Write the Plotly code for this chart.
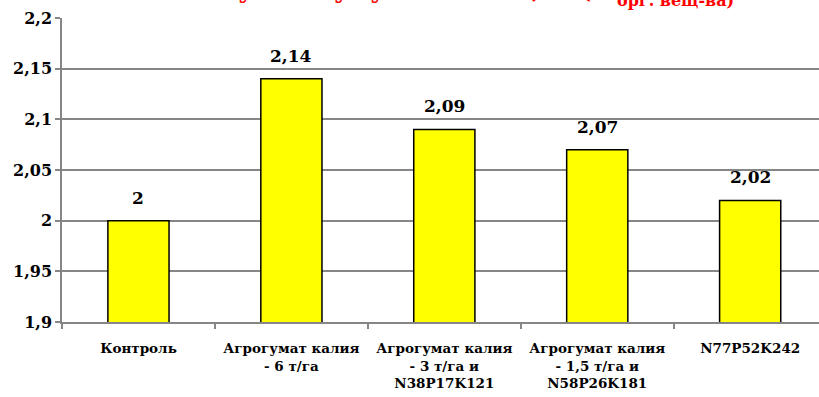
import plotly.graph_objects as go

categories = ["Контроль", "Агрогумат калия<br>- 6 т/га", "Агрогумат калия<br>- 3 т/га и<br>N38P17K121",
              "Агрогумат калия<br>- 1,5 т/га и<br>N58P26K181", "N77P52K242"]
values = [2.0, 2.14, 2.09, 2.07, 2.02]
value_labels = ["2", "2,14", "2,09", "2,07", "2,02"]
ytick_vals = [1.9, 1.95, 2.0, 2.05, 2.1, 2.15, 2.2]
ytick_text = ["1,9", "1,95", "2", "2,05", "2,1", "2,15", "2,2"]
title_main = "Сумма гумуса в почве, % (С"
title_sub = "орг. вещ-ва)"

SERIF = "DejaVu Serif"
GRID = "#868686"

fig = go.Figure()
fig.add_trace(go.Bar(
    x=categories, y=values,
    marker=dict(color="#FFFF00", line=dict(color="#000000", width=1.5)),
    width=0.4,
))

for c, v, t in zip(categories, values, value_labels):
    fig.add_annotation(x=c, y=v, text=t, showarrow=False, yanchor="bottom",
                       yshift=11, font=dict(family=SERIF, size=17, color="#000000", weight="bold"))

fig.add_annotation(xref="paper", yref="paper", x=0.7266, y=1, xanchor="right", yanchor="bottom", yshift=12,
                   text=title_main, showarrow=False,
                   font=dict(family=SERIF, size=24, color="#FF0000", weight="bold"))
fig.add_annotation(xref="paper", yref="paper", x=0.7305, y=1, xanchor="left", yanchor="bottom", yshift=6,
                   text=title_sub, showarrow=False,
                   font=dict(family=SERIF, size=16, color="#FF0000", weight="bold"))

fig.update_layout(
    width=819, height=397,
    margin=dict(l=62, r=0, t=18, b=75),
    paper_bgcolor="white", plot_bgcolor="white",
    showlegend=False,
    font=dict(family=SERIF),
)
fig.update_xaxes(
    type="category", range=[-0.5, 4.45],
    tickson="boundaries", ticks="outside", ticklen=5, tickcolor=GRID, tickwidth=1.5,
    showline=True, linecolor=GRID, linewidth=1.5,
    showgrid=False,
    tickfont=dict(family=SERIF, size=13.5, color="#000000", weight="bold"),
    ticklabelstandoff=13,
)
fig.update_yaxes(
    range=[1.9, 2.2], tickvals=ytick_vals, ticktext=ytick_text,
    ticks="outside", ticklen=5, tickcolor=GRID, tickwidth=1.5,
    showline=True, linecolor=GRID, linewidth=1.5,
    showgrid=True, gridcolor=GRID, gridwidth=1.5,
    zeroline=False,
    tickfont=dict(family=SERIF, size=16, color="#000000", weight="bold"),
)

fig.write_html("out.html")
